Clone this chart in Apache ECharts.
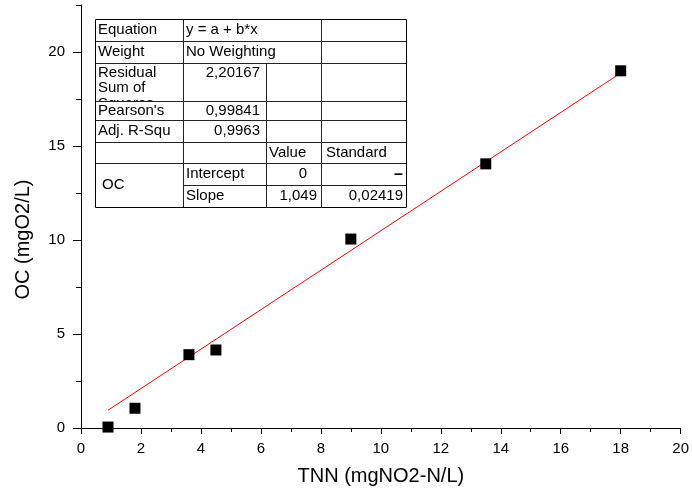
<!DOCTYPE html>
<html>
<head>
<meta charset="utf-8">
<script src="https://cdn.jsdelivr.net/npm/echarts@6/dist/echarts.min.js"></script>
<style>
html,body{margin:0;padding:0;background:#fff;}
#chart{width:692px;height:493px;}
</style>
</head>
<body>
<div id="chart"></div>
<script>
// ---- data ----
const tnn = [0.9, 1.8, 3.6, 4.5, 9.0, 13.5, 18.0];
const oc = [0.05, 1.05, 3.9, 4.15, 10.05, 14.05, 19.0];
const fitSlope = 1.049;
const fitIntercept = 0;
const fitRangeX = [0.9, 18.0];
const yMajorTicks = [0, 5, 10, 15, 20];
const yMinorTicks = [2.5, 7.5, 12.5, 17.5, 22.5];

// statistics table text
const statLabels = ["Equation", "Weight", "Residual\nSum of\nSquares", "Pearson's", "Adj. R-Squ"];
const statValues = ["y = a + b*x", "No Weighting", "2,20167", "0,99841", "0,9963"];
const paramHeaders = ["Value", "Standard"];
const paramGroup = "OC";
const paramNames = ["Intercept", "Slope"];
const paramValues = ["0", "1,049"];
const paramErrors = ["\u2013", "0,02419"];

const fitData = fitRangeX.map(x => [x, fitIntercept + fitSlope * x]);

// ---- table graphic ----
const FONT = '"Liberation Sans", Arial, sans-serif';
const colX = [95, 183, 266, 321, 406];
const rowY = [19, 41, 63, 101, 120, 142, 163, 185, 207];
const els = [];
function cellBg(x0, y0, x1, y1) {
  els.push({type: 'rect', shape: {x: x0, y: y0, width: x1 - x0, height: y1 - y0}, style: {fill: '#fff'}});
}
function txt(s, x, y, align, vAlign, extra) {
  els.push({type: 'text', x: x, y: y, style: Object.assign({
    text: s, fill: '#000', font: '15px ' + FONT, align: align, verticalAlign: vAlign, lineHeight: 15
  }, extra || {})});
}
// background
cellBg(colX[0], rowY[0], colX[4], rowY[8]);
// stat rows
for (let i = 0; i < statLabels.length; i++) {
  const y0 = rowY[i], y1 = rowY[i + 1];
  cellBg(colX[0] + 1, y0 + 1, colX[4] - 1, y1);
  const mid = (y0 + y1) / 2;
  if (i === 2) {
    txt(statLabels[i], colX[0] + 3, y0 + 2, 'left', 'top', {lineHeight: 15.5});
    txt(statValues[i], colX[2] - 6, y0 + 2, 'right', 'top', {lineHeight: 15.5});
  } else {
    txt(statLabels[i], colX[0] + 3, mid, 'left', 'middle');
    if (i < 2) txt(statValues[i], colX[1] + 3, mid, 'left', 'middle');
    else txt(statValues[i], colX[2] - 6, mid, 'right', 'middle');
  }
}
// header row
cellBg(colX[0] + 1, rowY[5] + 1, colX[4] - 1, rowY[6]);
txt(paramHeaders[0], colX[2] + 3, (rowY[5] + rowY[6]) / 2, 'left', 'middle');
txt(paramHeaders[1], colX[3] + 5, (rowY[5] + rowY[6]) / 2, 'left', 'middle');
// parameter rows
txt(paramGroup, colX[0] + 7, (rowY[6] + rowY[8]) / 2, 'left', 'middle');
for (let j = 0; j < paramNames.length; j++) {
  const y0 = rowY[6 + j], y1 = rowY[7 + j], mid = (y0 + y1) / 2;
  txt(paramNames[j], colX[1] + 3, mid, 'left', 'middle');
  txt(paramValues[j], j === 0 ? colX[3] - 14 : colX[3] - 4, mid, 'right', 'middle');
  if (j === 0) txt(paramErrors[j], colX[4] - 3, mid + 1, 'right', 'middle', {font: 'bold 16px ' + FONT});
  else txt(paramErrors[j], colX[4] - 3, mid, 'right', 'middle');
}
// grid lines
function hl(x0, x1, y) { els.push({type: 'line', shape: {x1: x0, y1: y + 0.5, x2: x1, y2: y + 0.5}, style: {stroke: '#222', lineWidth: 1}}); }
function vl(x, y0, y1) { els.push({type: 'line', shape: {x1: x + 0.5, y1: y0, x2: x + 0.5, y2: y1}, style: {stroke: '#222', lineWidth: 1}}); }
for (let r = 1; r < rowY.length - 1; r++) {
  if (r === 7) hl(colX[1], colX[4], rowY[r]);
  else hl(colX[0], colX[4], rowY[r]);
}
vl(colX[1], rowY[0], rowY[8]);
vl(colX[2], rowY[2], rowY[8]);
vl(colX[3], rowY[0], rowY[8]);
els.push({type: 'rect', shape: {x: colX[0] + 0.5, y: rowY[0] + 0.5, width: colX[4] - colX[0], height: rowY[8] - rowY[0]},
  style: {fill: 'none', stroke: '#000', lineWidth: 1}});

// ---- chart ----
const chart = echarts.init(document.getElementById('chart'), null, {renderer: 'canvas'});
const axisFont = {color: '#000', fontFamily: FONT, fontSize: 15};
chart.setOption({
  animation: false,
  backgroundColor: '#fff',
  grid: {left: 81, right: 6, top: 5, bottom: 65, containLabel: false},
  xAxis: {
    type: 'value', min: 0, max: 20, interval: 2,
    name: 'TNN (mgNO2-N/L)', nameLocation: 'middle', nameGap: 38,
    nameTextStyle: {color: '#000', fontFamily: FONT, fontSize: 20},
    axisLine: {show: true, onZero: false, lineStyle: {color: '#000', width: 1}},
    axisTick: {show: true, length: 6, lineStyle: {color: '#000'}},
    minorTick: {show: true, splitNumber: 2, length: 4, lineStyle: {color: '#000'}},
    axisLabel: Object.assign({margin: 13}, axisFont),
    splitLine: {show: false}
  },
  yAxis: [{
    type: 'value', min: 0, max: 22.5, interval: 2.5, position: 'left',
    name: 'OC (mgO2/L)', nameLocation: 'middle', nameGap: 48,
    nameTextStyle: {color: '#000', fontFamily: FONT, fontSize: 20, padding: [0, 46, 0, 0]},
    axisLine: {show: true, onZero: false, lineStyle: {color: '#000', width: 1}},
    axisTick: {show: true, length: 8, customValues: yMajorTicks, lineStyle: {color: '#000'}},
    axisLabel: Object.assign({margin: 16, customValues: yMajorTicks}, axisFont),
    splitLine: {show: false}
  }, {
    type: 'value', min: 0, max: 22.5, interval: 2.5, position: 'left', offset: 0,
    axisLine: {show: false},
    axisTick: {show: true, length: 5, customValues: yMinorTicks, lineStyle: {color: '#000'}},
    axisLabel: {show: false},
    splitLine: {show: false}
  }],
  series: [{
    type: 'line', data: fitData, showSymbol: false, symbol: 'none',
    lineStyle: {color: '#ff0000', width: 1}, z: 2
  }, {
    type: 'scatter', data: tnn.map((x, i) => [x, oc[i]]), symbol: 'rect', symbolSize: 11,
    itemStyle: {color: '#000', opacity: 1}, z: 3
  }],
  graphic: [{type: 'group', z: 100, children: els}]
});
</script>
</body>
</html>
